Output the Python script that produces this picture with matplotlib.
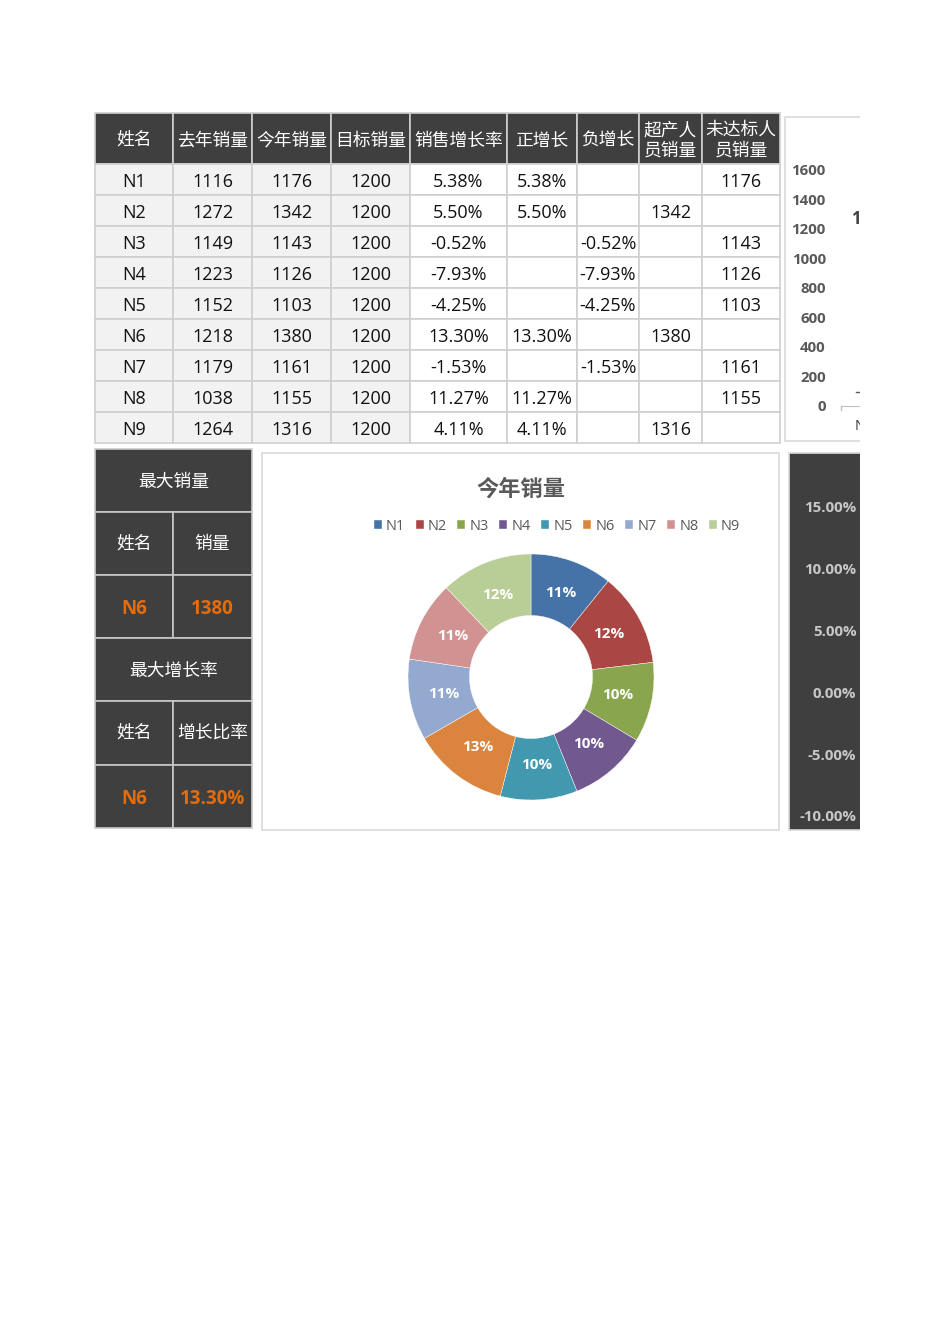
import matplotlib.pyplot as plt
from matplotlib.patches import Rectangle
import matplotlib.ticker as mticker

plt.rcParams['font.family'] = ['Open Sans', 'Noto Sans CJK SC', 'DejaVu Sans']
CJK = ['Noto Sans CJK SC', 'DejaVu Sans']

# ---- data read from the sheet ----
headers = ["姓名", "去年销量", "今年销量", "目标销量", "销售增长率", "正增长", "负增长",
           "超产人\n员销量", "未达标人\n员销量"]
names = ["N1", "N2", "N3", "N4", "N5", "N6", "N7", "N8", "N9"]
last_year = [1116, 1272, 1149, 1223, 1152, 1218, 1179, 1038, 1264]
this_year = [1176, 1342, 1143, 1126, 1103, 1380, 1161, 1155, 1316]
target = [1200, 1200, 1200, 1200, 1200, 1200, 1200, 1200, 1200]
growth = [5.38, 5.50, -0.52, -7.93, -4.25, 13.30, -1.53, 11.27, 4.11]
pos_growth = [5.38, 5.50, None, None, None, 13.30, None, 11.27, 4.11]
neg_growth = [None, None, -0.52, -7.93, -4.25, None, -1.53, None, None]
over_target = [None, 1342, None, None, None, 1380, None, None, 1316]
under_target = [1176, None, 1143, 1126, 1103, None, 1161, 1155, None]

max_sales_name = "N6"
max_sales = 1380
max_growth_name = "N6"
max_growth = 13.30

sales_ticks = [0, 200, 400, 600, 800, 1000, 1200, 1400, 1600]
growth_ticks = [-10, -5, 0, 5, 10, 15]

pie_colors = ["#4572A7", "#AA4643", "#89A54E", "#71588F", "#4198AF",
              "#DB843D", "#93A9CF", "#D19392", "#B9CD96"]

DARK = "#3F3F3F"
ORANGE = "#E46C0A"
GRID = "#CFCFCF"

W, H = 950, 1344
fig = plt.figure(figsize=(W / 100, H / 100), dpi=100)
fig.patch.set_facecolor("white")

ax = fig.add_axes([0, 0, 1, 1])
ax.set_xlim(0, W)
ax.set_ylim(H, 0)
ax.axis("off")


def fx(x):
    return x / W


def fy(y):
    return 1 - y / H


def pct(v):
    return "" if v is None else f"{v:.2f}%"


def num(v):
    return "" if v is None else str(v)


# ---- main table ----
col_x = [95, 173, 252, 331, 410, 507, 577, 639, 702, 780]
head_top, head_bot, row_h = 113, 164, 31

for j, h in enumerate(headers):
    x0, x1 = col_x[j], col_x[j + 1]
    ax.add_patch(Rectangle((x0, head_top), x1 - x0, head_bot - head_top,
                           facecolor=DARK, edgecolor=GRID, lw=1.2))
    ax.text((x0 + x1) / 2, (head_top + head_bot) / 2 + 2, h, color="white",
            ha="center", va="center", fontsize=12.8, linespacing=1.2, family=CJK)

for i in range(len(names)):
    row = [names[i], num(last_year[i]), num(this_year[i]), num(target[i]),
           pct(growth[i]), pct(pos_growth[i]), pct(neg_growth[i]),
           num(over_target[i]), num(under_target[i])]
    y0 = head_bot + i * row_h
    for j, val in enumerate(row):
        x0, x1 = col_x[j], col_x[j + 1]
        fc = "#F2F2F2" if j < 4 else "white"
        ax.add_patch(Rectangle((x0, y0), x1 - x0, row_h,
                               facecolor=fc, edgecolor=GRID, lw=1.2))
        ax.text((x0 + x1) / 2, y0 + row_h / 2 + 2.5, val, color="#111111",
                ha="center", va="center", fontsize=13)

# ---- summary boxes ----
sx0, sxm, sx1 = 95, 173, 252
sy = [449, 512, 575, 638, 701, 765, 828]
summary = [
    ("最大销量", None, None, "white", "normal"),
    (None, "姓名", "销量", "white", "normal"),
    (None, max_sales_name, str(max_sales), ORANGE, "bold"),
    ("最大增长率", None, None, "white", "normal"),
    (None, "姓名", "增长比率", "white", "normal"),
    (None, max_growth_name, f"{max_growth:.2f}%", ORANGE, "bold"),
]
for k, (title, a, b, c, w) in enumerate(summary):
    y0, y1 = sy[k], sy[k + 1]
    if title is not None:
        ax.add_patch(Rectangle((sx0, y0), sx1 - sx0, y1 - y0,
                               facecolor=DARK, edgecolor="#C8C8C8", lw=1.2))
        ax.text((sx0 + sx1) / 2, (y0 + y1) / 2 + 1, title, color=c, ha="center",
                va="center", fontsize=12.8, fontweight=w, family=CJK)
    else:
        ax.add_patch(Rectangle((sx0, y0), sxm - sx0, y1 - y0,
                               facecolor=DARK, edgecolor="#C8C8C8", lw=1.2))
        ax.add_patch(Rectangle((sxm, y0), sx1 - sxm, y1 - y0,
                               facecolor=DARK, edgecolor="#C8C8C8", lw=1.2))
        if w == "bold":
            kw = dict(fontsize=13.5, fontweight="bold")
            yc = (y0 + y1) / 2 + 2.5
        else:
            kw = dict(fontsize=12.8, family=CJK)
            yc = (y0 + y1) / 2 + 1
        ax.text((sx0 + sxm) / 2, yc, a, color=c, ha="center", va="center", **kw)
        ax.text((sxm + sx1) / 2, yc, b, color=c, ha="center", va="center", **kw)

# ---- donut chart panel ----
ax.add_patch(Rectangle((262, 453), 779 - 262, 830 - 453,
                       facecolor="white", edgecolor="#D9D9D9", lw=1.2))
ax.text(521, 489, "今年销量", color="#595959", ha="center", va="center",
        fontsize=16, fontweight="bold", family=CJK)

cx, cy, r = 531, 677, 123
ax_d = fig.add_axes([fx(cx - r), fy(cy + r), 2 * r / W, 2 * r / H])
wedges, _, autotexts = ax_d.pie(
    this_year, colors=pie_colors, startangle=90, counterclock=False,
    radius=1.0, autopct="%.0f%%", pctdistance=0.72,
    wedgeprops=dict(width=0.5, edgecolor="white", linewidth=0.3),
    textprops=dict(color="white", fontsize=11, fontweight="bold"))
ax_d.set_xlim(-1, 1)
ax_d.set_ylim(-1, 1)
ax_d.set_aspect("equal")
ax_d.axis("off")

leg = ax_d.legend(wedges, names, ncol=9, loc="center",
                  bbox_to_anchor=(fx(557), fy(526)), bbox_transform=fig.transFigure,
                  frameon=False, fontsize=10.5, handlelength=0.55, handleheight=0.55,
                  handletextpad=0.3, columnspacing=0.7, labelcolor="#595959")

# ---- top right chart (cut off) ----
ax.add_patch(Rectangle((785, 117), 200, 441 - 117,
                       facecolor="white", edgecolor="#D9D9D9", lw=1.2))
ax_s = fig.add_axes([fx(841), fy(406), 200 / W, (406 - 170) / H])
ax_s.set_ylim(0, 1600)
ax_s.set_xlim(0, 1)
ax_s.set_yticks(sales_ticks)
ax_s.set_xticks([])
ax_s.tick_params(axis="y", length=0, pad=11, labelsize=10.8, labelcolor="#595959")
for lab in ax_s.get_yticklabels():
    lab.set_fontweight("bold")
ax_s.patch.set_alpha(0)
for side in ["left", "right", "top"]:
    ax_s.spines[side].set_visible(False)
ax_s.spines["bottom"].set_color("#BFBFBF")
ax_s.plot([0, 0], [0, -25], color="#BFBFBF", lw=1, clip_on=False)
ax.text(851, 219, "1", color="#404040", ha="left", va="center", fontsize=12,
        fontweight="bold")
ax.plot([856, 860], [392, 392], color="#595959", lw=1)
ax.text(855, 427, "N1", color="#404040", ha="left", va="center", fontsize=10.5)

# ---- bottom right chart (cut off) ----
ax.add_patch(Rectangle((789, 453), 200, 830 - 453,
                       facecolor=DARK, edgecolor="#D9D9D9", lw=1.2))
ax_g = fig.add_axes([fx(862), fy(816), 150 / W, (816 - 507) / H])
ax_g.set_ylim(-10, 15)
ax_g.set_yticks(growth_ticks)
ax_g.yaxis.set_major_formatter(mticker.FuncFormatter(lambda v, p: f"{v:.2f}%"))
ax_g.set_xticks([])
ax_g.tick_params(axis="y", length=0, pad=4, labelsize=10.8, labelcolor="#C8C8C8")
for lab in ax_g.get_yticklabels():
    lab.set_fontweight("bold")
ax_g.patch.set_alpha(0)
for side in ax_g.spines:
    ax_g.spines[side].set_visible(False)

# white area past the visible page edge
fig.add_artist(Rectangle((fx(860), 0), 1 - fx(860), 1, transform=fig.transFigure,
                         facecolor="white", edgecolor="none", zorder=100))

fig.savefig("out.png", dpi=100, facecolor="white")
